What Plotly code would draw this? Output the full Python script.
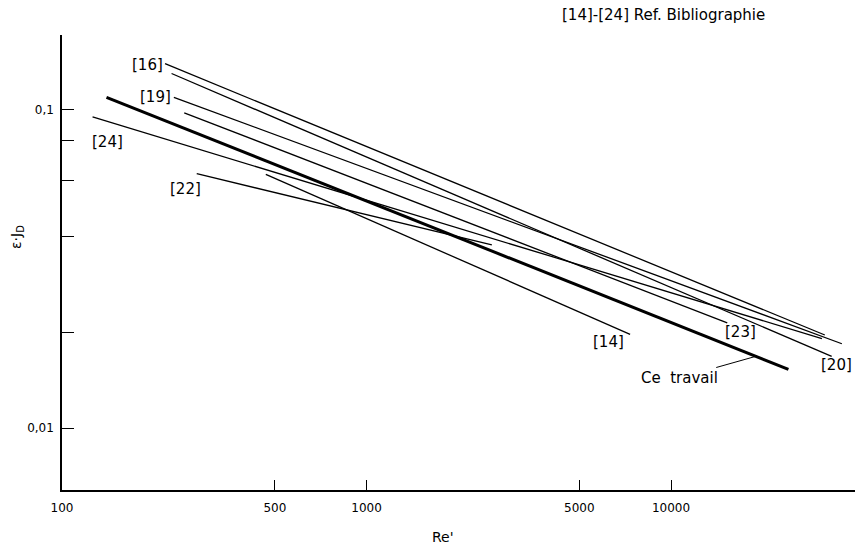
import math
import plotly.graph_objects as go

# ---- data (Re' vs eps*J_D, log-log) ----
series_names = ["[16]", "[20]", "[19]", "[23]", "Ce travail", "[24]", "[22]", "[14]"]
re_16 = [218, 32000];  jd_16 = [0.139, 0.0196]
re_20 = [229, 33700];  jd_20 = [0.1295, 0.0168]
re_19 = [233, 36400];  jd_19 = [0.109, 0.0184]
re_23 = [252, 15300];  jd_23 = [0.0975, 0.0214]
re_ct = [140, 24300];  jd_ct = [0.109, 0.0153]
re_24 = [126, 31300];  jd_24 = [0.0946, 0.0191]
re_22 = [277, 2580];   jd_22 = [0.0628, 0.0376]
re_14 = [467, 7340];   jd_14 = [0.0625, 0.0197]

x_tickvals = [100, 500, 1000, 5000, 10000]
x_ticktext = ["100", "500", "1000", "5000", "10000"]
y_tickvals = [0.01, 0.02, 0.04, 0.06, 0.08, 0.1]
y_ticktext = ["0,01", "", "", "", "", "0,1"]

xs = [re_16, re_20, re_19, re_23, re_ct, re_24, re_22, re_14]
ys = [jd_16, jd_20, jd_19, jd_23, jd_ct, jd_24, jd_22, jd_14]

W, H = 857, 548
L, R, T, B = 62, 2, 35, 58
PW, PH = W - L - R, H - T - B

FONT = "DejaVu Sans"

fig = go.Figure()
for name, x, y in zip(series_names, xs, ys):
    thick = name == "Ce travail"
    fig.add_trace(go.Scatter(x=x, y=y, mode="lines", name=name, hoverinfo="skip",
                             line=dict(color="black", width=3 if thick else 1.3)))

def px(xp, yp):
    return (xp - L) / PW, (H - B - yp) / PH

annotations = []
def label(text, xp, yp, size=15, xanchor="center", angle=0):
    ax_, ay_ = px(xp, yp)
    annotations.append(dict(text=text, x=ax_, y=ay_, xref="paper", yref="paper",
                            showarrow=False, xanchor=xanchor, yanchor="middle",
                            textangle=angle,
                            font=dict(family=FONT, size=size, color="black")))

label("[16]", 147, 65)
label("[19]", 155, 97)
label("[24]", 107, 142)
label("[22]", 185, 189)
label("[14]", 608, 342)
label("[23]", 740, 332)
label("[20]", 854, 365, xanchor="right")

# "Ce travail" with leader line to the thick curve
cx, cy = px(757, 356)
annotations.append(dict(text="Ce  travail", x=cx, y=cy, xref="paper", yref="paper",
                        showarrow=True, arrowhead=0, arrowwidth=1, arrowcolor="black",
                        ax=-78, ay=22, font=dict(family=FONT, size=15, color="black")))

# header note, axis titles
label("[14]-[24] Ref. Bibliographie", 663, 15)
label("Re'", 443, 537, size=14)
label("ε·J<sub>D</sub>", 17, 237, size=14, angle=-90)

fig.update_layout(
    width=W, height=H,
    margin=dict(l=L, r=R, t=T, b=B),
    paper_bgcolor="white", plot_bgcolor="white",
    showlegend=False,
    annotations=annotations,
)
fig.update_xaxes(type="log", range=[2, math.log10(40200)], showgrid=False, zeroline=False,
                 showline=True, linecolor="black", linewidth=1.5,
                 ticks="inside", ticklen=10, tickcolor="black", tickwidth=1,
                 tickvals=x_tickvals, ticktext=x_ticktext, ticklabelstandoff=6,
                 tickfont=dict(family=FONT, size=12, color="black"), automargin=False)
fig.update_yaxes(type="log", range=[math.log10(0.0064), math.log10(0.171)], showgrid=False,
                 zeroline=False, showline=True, linecolor="black", linewidth=1.5,
                 ticks="inside", ticklen=12, tickcolor="black", tickwidth=1,
                 tickvals=y_tickvals, ticktext=y_ticktext, ticklabelstandoff=4,
                 tickfont=dict(family=FONT, size=12, color="black"), automargin=False)

fig.write_html("out.html",
               config={"displayModeBar": False},
               post_script="document.body.style.margin='0';document.body.style.padding='0';"
                           "document.body.style.overflow='hidden';")
